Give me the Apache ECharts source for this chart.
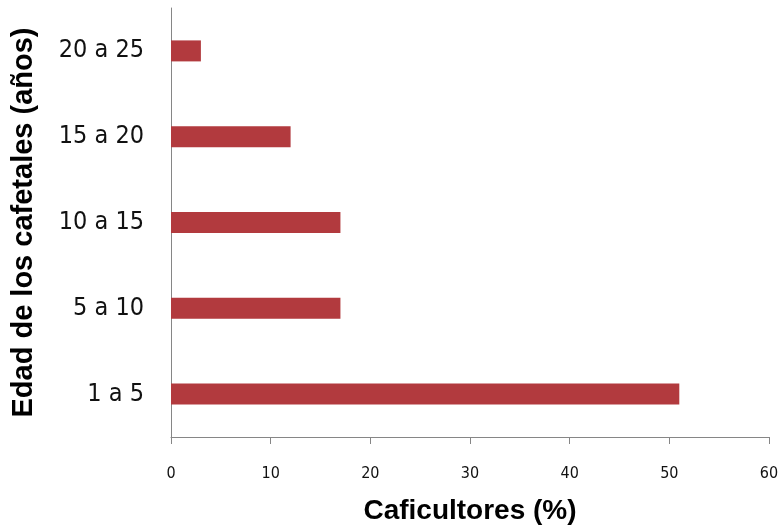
<!DOCTYPE html>
<html><head><meta charset="utf-8">
<script src="https://cdn.jsdelivr.net/npm/echarts@6/dist/echarts.min.js"></script>
<style>html,body{margin:0;padding:0;background:#fff}#c{width:781px;height:529px}</style>
</head><body><div id="c"></div>
<script>
const categories = ["1 a 5", "5 a 10", "10 a 15", "15 a 20", "20 a 25"];
const values = [51, 17, 17, 12, 3];
const xTicks = [0, 10, 20, 30, 40, 50, 60];
const xTitle = "Caficultores (%)";
const yTitle = "Edad de los cafetales (años)";

const chart = echarts.init(document.getElementById('c'), null, {renderer: 'canvas'});
chart.setOption({
  animation: false,
  grid: {left: 171, right: 12, top: 8, bottom: 92, containLabel: false, outerBoundsMode: 'none'},
  xAxis: {
    type: 'value', min: xTicks[0], max: xTicks[xTicks.length - 1], interval: 10,
    name: xTitle, nameLocation: 'middle', nameGap: 60,
    nameTextStyle: {fontFamily: 'Liberation Sans, Arial, sans-serif', fontWeight: 'bold', fontSize: 28, color: '#000'},
    axisLine: {show: true, lineStyle: {color: '#868686', width: 1}},
    axisTick: {show: true, length: 7, lineStyle: {color: '#868686'}},
    axisLabel: {fontFamily: 'DejaVu Sans Condensed, sans-serif', fontSize: 16, color: '#111', margin: 29},
    splitLine: {show: false}
  },
  yAxis: {
    type: 'category', data: categories,
    name: yTitle, nameLocation: 'middle', nameGap: 133, nameRotate: 90,
    nameTextStyle: {fontFamily: 'Liberation Sans, Arial, sans-serif', fontWeight: 'bold', fontSize: 29, color: '#000'},
    axisLine: {show: true, lineStyle: {color: '#868686', width: 1}},
    axisTick: {show: false},
    axisLabel: {fontFamily: 'DejaVu Sans Condensed, sans-serif', fontSize: 25, color: '#111', margin: 27}
  },
  series: [{
    type: 'bar', data: values, barWidth: 21,
    itemStyle: {color: '#B23A3E'}
  }]
});
</script></body></html>
